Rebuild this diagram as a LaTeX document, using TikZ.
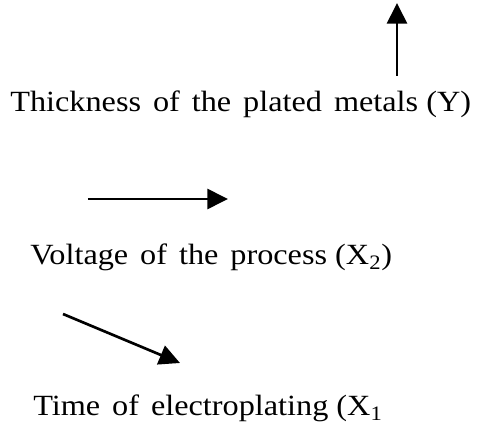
\documentclass[tikz,border=0pt]{standalone}
\usepackage{fontspec}
\setmainfont{Liberation Serif}
\usetikzlibrary{arrows.meta}

\begin{document}
\begin{tikzpicture}[x=0.75pt,y=-0.75pt,
    lbl/.style={anchor=base west,inner sep=0pt,font=\fontsize{22}{25}\selectfont,xscale=1.1},
    arr/.style={line width=2pt,-{Triangle[length=15.5pt,width=15pt]}}]
    \useasboundingbox (0,0) rectangle (480,435);

    % response Y
    \coordinate (ytail) at (397,76);
    \coordinate (yhead) at (397,3);
    \draw[arr] (ytail) -- (yhead);
    \node[lbl] (ylabel) at (10,112) {Thickness\hspace{0.12em} of\hspace{0.12em} the\hspace{0.12em} plated\hspace{0.12em} metals (Y)};

    % factor X2
    \coordinate (vtail) at (88,199);
    \coordinate (vhead) at (228,199);
    \draw[arr] (vtail) -- (vhead);
    \node[lbl] (vlabel) at (30,265) {Voltage\hspace{0.12em} of\hspace{0.12em} the\hspace{0.12em} process (X\textsubscript{2})};

    % factor X1
    \coordinate (ttail) at (63,314);
    \coordinate (thead) at (180,363);
    \draw[arr] (ttail) -- (thead);
    \node[lbl] (tlabel) at (33,416) {Time\hspace{0.12em} of\hspace{0.12em} electroplating (X\textsubscript{1}};
\end{tikzpicture}
\end{document}
